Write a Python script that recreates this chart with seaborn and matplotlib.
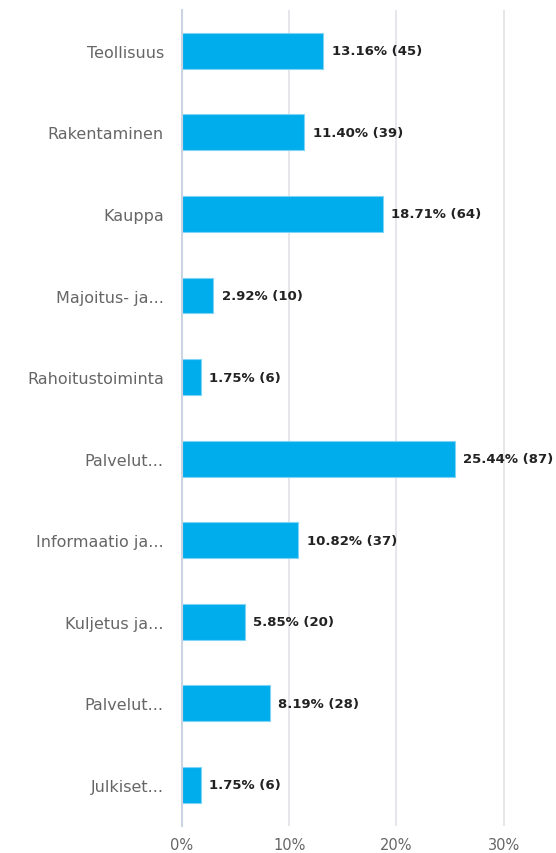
import matplotlib
matplotlib.use("Agg")
from matplotlib import pyplot as plt
import pandas as pd
import seaborn as sns

# 数据
categories = ["Teollisuus", "Rakentaminen", "Kauppa", "Majoitus- ja...",
              "Rahoitustoiminta", "Palvelut...", "Informaatio ja...",
              "Kuljetus ja...", "Palvelut...", "Julkiset..."]
percents = [13.16, 11.40, 18.71, 2.92, 1.75, 25.44, 10.82, 5.85, 8.19, 1.75]
counts = [45, 39, 64, 10, 6, 87, 37, 20, 28, 6]
x_ticks = [0, 10, 20, 30]

sns.set_theme(style="white")
plt.rcParams['font.family'] = ['DejaVu Sans']

df = pd.DataFrame({
    "pos": [str(i) for i in range(len(categories))],
    "percent": percents,
})

fig = plt.figure(figsize=(5.56, 8.54), dpi=100)
ax = fig.add_axes([0.327, 0.032, 0.637, 0.955])

sns.barplot(data=df, x="percent", y="pos", orient="h", color="#00ADEC",
            width=0.44, edgecolor="#7fd3f4", linewidth=0.8, saturation=1, ax=ax)

# 数值标签
for i, (p, c) in enumerate(zip(percents, counts)):
    ax.text(p + 0.8, i, f"{p:.2f}% ({c})", va="center", ha="left",
            fontsize=9.5, fontweight="bold", color="#222222")

ax.set_xlim(0, 33)
ax.set_ylim(len(categories) - 0.5, -0.5)
ax.set_xticks(x_ticks)
ax.set_xticklabels([f"{t}%" for t in x_ticks], color="#666666", fontsize=10.5)
ax.set_yticks(range(len(categories)))
ax.set_yticklabels(categories, color="#666666", fontsize=11.5)
ax.tick_params(axis="y", length=0, pad=13)
ax.tick_params(axis="x", length=0, pad=8)

ax.grid(axis="x", color="#e3e3e8", linewidth=1.2)
ax.set_axisbelow(True)
for s in ["top", "right", "bottom"]:
    ax.spines[s].set_visible(False)
ax.spines["left"].set_color("#ccd3e3")
ax.spines["left"].set_linewidth(1.5)
ax.set_xlabel("")
ax.set_ylabel("")

plt.savefig("out.png", dpi=100)
